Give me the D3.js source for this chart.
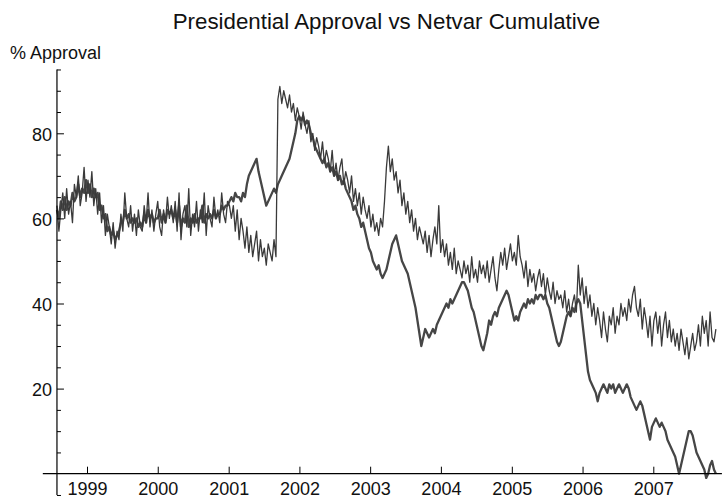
<!DOCTYPE html>
<html>
<head>
<meta charset="utf-8">
<script src="https://cdn.jsdelivr.net/npm/d3@7"></script>
<style>
  html, body { margin: 0; padding: 0; background: #fff; }
  svg { display: block; font-family: "Liberation Sans", Arial, Helvetica, sans-serif; }
</style>
</head>
<body>
<svg id="chart" width="722" height="498"></svg>
<script>
// Sampling: one value every 10 days starting from the first poll date
const seriesStart = "1998-07-30";
const stepDays = 10;

// Presidential approval (%), polls sampled every 10 days
const approval = [
  63, 57, 62, 66, 60, 67, 61, 64, 59, 68,
  65, 70, 63, 66, 72, 64, 69, 65, 71, 63,
  67, 61, 66, 59, 63, 56, 61, 58, 54, 59,
  53, 57, 55, 61, 57, 66, 60, 58, 63, 57,
  61, 56, 62, 58, 57, 63, 59, 66, 58, 62,
  57, 61, 64, 58, 56, 62, 59, 65, 60, 63,
  59, 64, 57, 66, 55, 61, 63, 58, 67, 56,
  61, 58, 64, 57, 62, 59, 66, 56, 63, 60,
  58, 65, 60, 62, 59, 66, 61, 59, 64, 63,
  60, 63, 57, 62, 55, 60, 57, 53, 58, 52,
  56, 51, 54, 57, 50, 55, 51, 53, 49, 54,
  52, 50, 55, 51, 88, 91, 87, 90, 88, 86,
  89, 85, 87, 83, 86, 84, 81, 85, 82, 80,
  83, 78, 80, 76, 79, 77, 74, 78, 73, 76,
  74, 71, 76, 70, 73, 69, 72, 74, 68, 71,
  69, 66, 70, 64, 67, 63, 66, 61, 65, 62,
  60, 63, 58, 61, 57, 59, 56, 60, 58, 64,
  72, 77, 71, 74, 69, 71, 66, 69, 63, 66,
  61, 64, 59, 62, 57, 60, 55, 58, 56, 54,
  57, 52, 56, 51, 55, 58, 54, 63, 52, 55,
  51, 54, 49, 52, 48, 53, 47, 50, 48, 46,
  50, 47, 49, 45, 51, 46, 48, 45, 50, 47,
  49, 46, 50, 45, 48, 51, 46, 43, 48, 52,
  49, 53, 48, 51, 54, 50, 52, 49, 56, 51,
  49, 46, 50, 44, 48, 45, 47, 43, 46, 48,
  44, 47, 42, 46, 43, 41, 45, 40, 43, 41,
  42, 39, 43, 38, 41, 37, 40, 42, 38, 49,
  42, 46, 40, 44, 39, 42, 37, 40, 35, 39,
  36, 32, 38, 34, 31, 37, 35, 39, 33, 37,
  35, 40, 37, 39, 36, 41, 38, 42, 44, 39,
  37, 41, 34, 39, 36, 32, 37, 30, 36, 38,
  33, 37, 30, 35, 38, 32, 36, 31, 34, 30,
  33, 29, 34, 31, 28, 32, 27, 30, 33, 29,
  31, 35, 30, 37, 33, 36, 30, 38, 32, 31, 34
];

// Netvar cumulative index, same sampling
const netvarCumulative = [
  62, 60, 64, 62, 65, 62, 64, 63, 66, 64,
  65, 68, 65, 67, 66, 69, 66, 68, 65, 67,
  65, 66, 62, 63, 60, 61, 57, 58, 56, 57,
  55, 56, 57, 59, 59, 62, 60, 61, 59, 60,
  59, 60, 58, 59, 58, 61, 59, 62, 60, 61,
  59, 60, 60, 62, 59, 61, 59, 62, 61, 62,
  60, 62, 59, 63, 58, 60, 59, 63, 58, 60,
  59, 61, 59, 60, 60, 63, 59, 61, 60, 61,
  60, 62, 60, 61, 61, 63, 62, 63, 63, 64,
  65, 64, 66, 65, 65, 64, 66, 65, 68, 70,
  71, 72, 73, 74, 71, 69, 67, 65, 63, 64,
  65, 66, 67, 66, 68, 69, 70, 71, 72, 73,
  74, 76, 78, 80, 83, 84, 83, 84, 82, 83,
  82, 80, 79, 77, 76, 75, 74, 73, 74, 72,
  73, 71, 72, 70, 71, 69, 70, 68, 69, 67,
  66, 65, 64, 62, 63, 61, 60, 58, 59, 57,
  55, 53, 52, 50, 49, 48, 49, 47, 46, 47,
  48, 50, 52, 54, 55, 56, 54, 52, 50, 49,
  48, 47, 45, 43, 41, 39, 36, 33, 30, 32,
  34, 33, 32, 33, 34, 33, 35, 36, 37, 38,
  39, 40, 39, 41, 40, 41, 42, 43, 44, 45,
  45, 44, 43, 41, 39, 38, 36, 34, 32, 30,
  29, 31, 33, 36, 35, 37, 38, 37, 39, 40,
  41, 42, 43, 42, 40, 38, 36, 37, 36, 38,
  39, 40, 39, 41, 40, 41, 40, 42, 41, 42,
  42, 41, 42, 40, 39, 37, 35, 33, 31, 30,
  31, 33, 35, 37, 38, 37, 39, 38, 40, 41,
  40, 36, 32, 28, 24, 22, 21, 20, 19, 17,
  19, 20, 21, 20, 19, 21, 20, 21, 19, 20,
  21, 20, 19, 20, 21, 20, 18, 17, 16, 15,
  16, 17, 16, 14, 12, 10, 8, 11, 12, 13,
  12, 11, 12, 11, 10, 8, 7, 6, 5, 4,
  2, 0, 2, 4, 6, 8, 10, 10, 9, 7,
  5, 4, 3, 2, 1, -1, 0, 2, 3, 1, 0
];

// Axis ticks
const yearTicks = [1999, 2000, 2001, 2002, 2003, 2004, 2005, 2006, 2007];
const yMajorTicks = [20, 40, 60, 80];
const yMinorTicks = [-5, 5, 10, 15, 25, 30, 35, 45, 50, 55, 65, 70, 75, 85, 90, 95];

// Plot range and axis origin
const plotRangeX = ["1998-05-18", "2007-12-21"];
const plotRangeY = [-5, 95];
const axisOriginDate = "1998-07-30";

const titleText = "Presidential Approval vs Netvar Cumulative";
const yLabelText = "% Approval";

const parse = d3.timeParse("%Y-%m-%d");
const startDate = parse(seriesStart);
const dateAt = i => d3.timeDay.offset(startDate, i * stepDays);

const x = d3.scaleTime()
  .domain([new Date(1999, 0, 1), new Date(2007, 0, 1)])
  .range([87, 653.3]);
const y = d3.scaleLinear()
  .domain([0, 80])
  .range([473.7, 133.3]);

const svg = d3.select("#chart");

// Series lines
const line = d3.line()
  .x((d, i) => x(dateAt(i)))
  .y(d => y(d));

svg.append("path")
  .datum(netvarCumulative)
  .attr("fill", "none")
  .attr("stroke", "#464646")
  .attr("stroke-width", 2.3)
  .attr("stroke-linejoin", "round")
  .attr("d", line);

svg.append("path")
  .datum(approval)
  .attr("fill", "none")
  .attr("stroke", "#3a3a3a")
  .attr("stroke-width", 1.3)
  .attr("stroke-linejoin", "round")
  .attr("d", line);

// X axis along y = 0
const x0 = x(parse(plotRangeX[0]));
const x1 = x(parse(plotRangeX[1]));
const xAxisG = svg.append("g").attr("transform", `translate(0,${y(0)})`);
xAxisG.append("line")
  .attr("x1", x0).attr("x2", x1)
  .attr("stroke", "#000").attr("stroke-width", 1.2);
xAxisG.append("g").call(
  d3.axisBottom(x)
    .tickValues(yearTicks.map(yr => new Date(yr, 0, 1)))
    .tickFormat(d3.timeFormat("%Y"))
    .tickSizeInner(-7)
    .tickSizeOuter(0)
    .tickPadding(8.5)
);
xAxisG.selectAll(".domain").remove();
xAxisG.selectAll(".tick line").attr("stroke", "#000").attr("stroke-width", 1);
xAxisG.selectAll(".tick text")
  .attr("font-family", "Liberation Sans, Arial, sans-serif")
  .attr("font-size", 18).attr("fill", "#111");

// Y axis at the axis origin, with major and minor ticks
const ax = x(parse(axisOriginDate));
const yAxisG = svg.append("g").attr("transform", `translate(${ax},0)`);
yAxisG.append("line")
  .attr("y1", y(plotRangeY[0])).attr("y2", y(plotRangeY[1]))
  .attr("stroke", "#000").attr("stroke-width", 1.2);
yAxisG.append("g").attr("class", "major").call(
  d3.axisLeft(y)
    .tickValues(yMajorTicks)
    .tickFormat(d3.format("d"))
    .tickSizeInner(-7)
    .tickSizeOuter(0)
    .tickPadding(5)
);
yAxisG.append("g").attr("class", "minor").call(
  d3.axisLeft(y)
    .tickValues(yMinorTicks)
    .tickFormat("")
    .tickSizeInner(-4)
    .tickSizeOuter(0)
);
yAxisG.selectAll(".domain").remove();
yAxisG.selectAll(".tick line").attr("stroke", "#000").attr("stroke-width", 1);
yAxisG.selectAll(".major .tick text")
  .attr("font-family", "Liberation Sans, Arial, sans-serif")
  .attr("font-size", 18).attr("fill", "#111").attr("dy", "0.38em");

// Title and axis label
svg.append("text")
  .attr("x", 386.5).attr("y", 29)
  .attr("text-anchor", "middle")
  .attr("font-size", 22.3).attr("fill", "#111")
  .text(titleText);

svg.append("text")
  .attr("x", 10).attr("y", 59)
  .attr("font-size", 18).attr("fill", "#111")
  .text(yLabelText);
</script>
</body>
</html>
